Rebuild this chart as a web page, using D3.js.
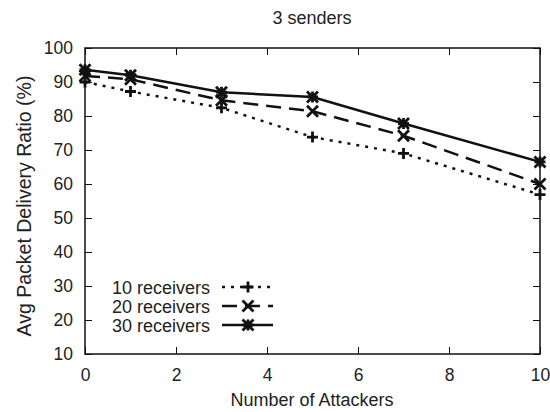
<!DOCTYPE html>
<html><head><meta charset="utf-8">
<script src="https://cdn.jsdelivr.net/npm/d3@7"></script>
<style>body{margin:0;background:#fff}text{font-family:"Liberation Sans",Arial,sans-serif;fill:#222}</style>
</head><body><svg id="c" width="550" height="412"></svg>
<script>
const attackers = [0, 1, 3, 5, 7, 10];
const recv10 = [90, 87.2, 82.4, 73.8, 69, 56.9];
const recv20 = [91.8, 90.8, 84.6, 81.4, 74.2, 60];
const recv30 = [93.6, 92, 87, 85.6, 77.8, 66.5];
const seriesNames = ["10 receivers", "20 receivers", "30 receivers"];
const xTicks = [0, 2, 4, 6, 8, 10];
const yTicks = [10, 20, 30, 40, 50, 60, 70, 80, 90, 100];

const svg = d3.select("#c");
const L = 85, R = 540, T = 48, B = 354;
const x = d3.scaleLinear().domain([0, 10]).range([L, R]);
const y = d3.scaleLinear().domain([10, 100]).range([B, T]);
const ink = "#111";

// frame
svg.append("rect").attr("x", L).attr("y", T).attr("width", R - L).attr("height", B - T)
  .attr("fill", "none").attr("stroke", ink).attr("stroke-width", 1.5);

// axes
const fs = "17.5px";
const ax = svg.append("g").attr("transform", `translate(0,${B})`)
  .call(d3.axisBottom(x).tickValues(xTicks).tickSize(-7).tickPadding(15).tickFormat(d3.format("d")));
const axT = svg.append("g").attr("transform", `translate(0,${T})`)
  .call(d3.axisTop(x).tickValues(xTicks).tickSize(-7).tickFormat(""));
const ay = svg.append("g").attr("transform", `translate(${L},0)`)
  .call(d3.axisLeft(y).tickValues(yTicks).tickSize(-7).tickPadding(12).tickFormat(d3.format("d")));
const ayR = svg.append("g").attr("transform", `translate(${R},0)`)
  .call(d3.axisRight(y).tickValues(yTicks).tickSize(-7).tickFormat(""));
[ax, axT, ay, ayR].forEach(g => {
  g.select(".domain").remove();
  g.selectAll("line").attr("stroke", ink).attr("stroke-width", 1);
  g.selectAll("text").style("font-size", fs).attr("fill", "#222");
});

// titles
svg.append("text").attr("x", 312).attr("y", 24).attr("text-anchor", "middle").style("font-size", "18px").text("3 senders");
svg.append("text").attr("x", 312).attr("y", 406).attr("text-anchor", "middle").style("font-size", "18px").text("Number of Attackers");
svg.append("text").attr("transform", "translate(31,206) rotate(-90)").attr("text-anchor", "middle").style("font-size", "19.5px").text("Avg Packet Delivery Ratio (%)");

const styles = [
  {data: recv10, dash: "3,6", marker: "plus"},
  {data: recv20, dash: "15,8", marker: "cross"},
  {data: recv30, dash: null, marker: "star"}
];
const line = d3.line().x((d, i) => x(attackers[i])).y(d => y(d));

function drawMarker(g, cx, cy, type) {
  const s = 5.5;
  const p = d3.path();
  if (type === "plus" || type === "star") {
    p.moveTo(cx - s, cy); p.lineTo(cx + s, cy);
    p.moveTo(cx, cy - s); p.lineTo(cx, cy + s);
  }
  if (type === "cross" || type === "star") {
    p.moveTo(cx - s, cy - s); p.lineTo(cx + s, cy + s);
    p.moveTo(cx - s, cy + s); p.lineTo(cx + s, cy - s);
  }
  g.append("path").attr("d", p.toString()).attr("stroke", ink).attr("stroke-width", 2.8).attr("fill", "none");
}

styles.forEach(st => {
  svg.append("path").datum(st.data).attr("d", line).attr("fill", "none")
    .attr("stroke", ink).attr("stroke-width", 2.5).attr("stroke-dasharray", st.dash);
  const g = svg.append("g");
  st.data.forEach((v, i) => drawMarker(g, x(attackers[i]), y(v), st.marker));
});

// legend
const legY = [287, 306, 325];
styles.forEach((st, i) => {
  svg.append("text").attr("x", 210).attr("y", legY[i] + 6.5).attr("text-anchor", "end").style("font-size", "18px").text(seriesNames[i]);
  svg.append("line").attr("x1", 222).attr("x2", 273).attr("y1", legY[i]).attr("y2", legY[i])
    .attr("stroke", ink).attr("stroke-width", 2.5).attr("stroke-dasharray", st.dash);
  drawMarker(svg, 248, legY[i], st.marker);
});
</script></body></html>
